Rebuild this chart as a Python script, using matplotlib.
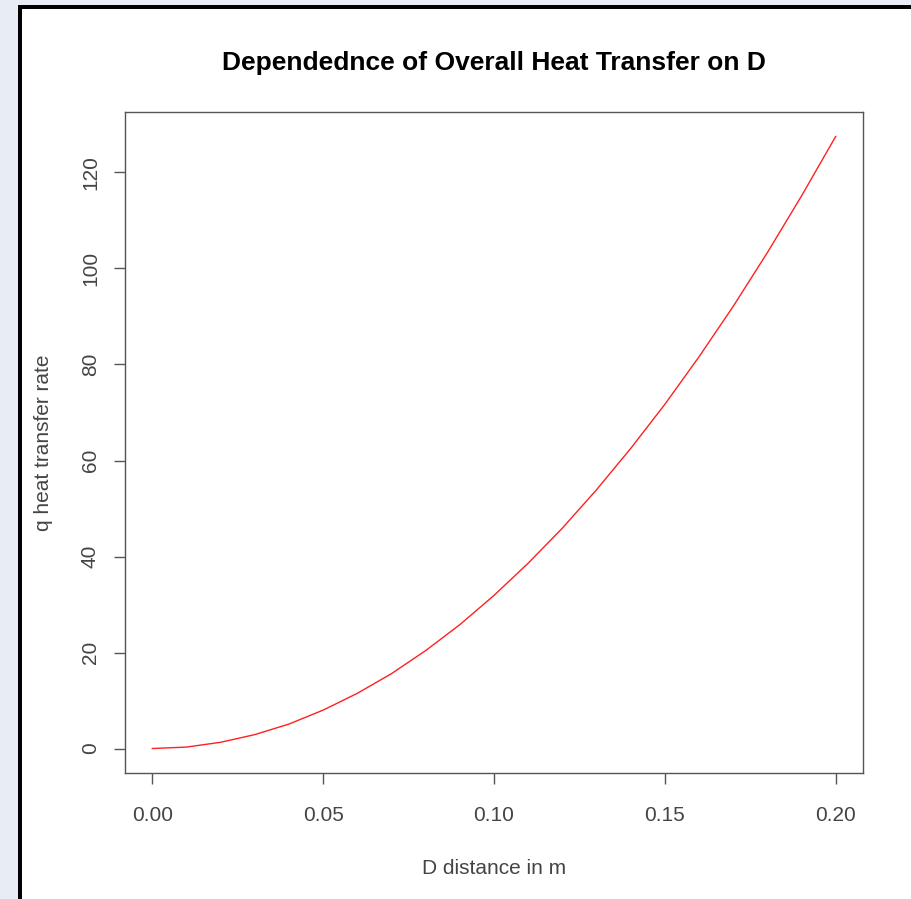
import matplotlib
matplotlib.use("Agg")
import matplotlib.pyplot as plt
from matplotlib.patches import Rectangle

plt.rcParams['font.family'] = ['Liberation Sans', 'DejaVu Sans']

# Data
D = [0.00, 0.01, 0.02, 0.03, 0.04, 0.05, 0.06, 0.07, 0.08, 0.09, 0.10,
     0.11, 0.12, 0.13, 0.14, 0.15, 0.16, 0.17, 0.18, 0.19, 0.20]
q = [0.0, 0.3, 1.3, 2.9, 5.1, 8.0, 11.5, 15.6, 20.4, 25.8, 31.9,
     38.6, 45.9, 53.9, 62.5, 71.7, 81.6, 92.1, 103.3, 115.1, 127.5]
xticks = [0.00, 0.05, 0.10, 0.15, 0.20]
xticklabels = ["0.00", "0.05", "0.10", "0.15", "0.20"]
yticks = [0, 20, 40, 60, 80, 100, 120]

W, H = 912, 899
fig = plt.figure(figsize=(W / 100, H / 100), dpi=100, facecolor='#E8ECF5')

# black frame + white panel
fig.patches.append(Rectangle((18 / W, 0), 1 - 18 / W, 1 - 5 / H, transform=fig.transFigure,
                             facecolor='black', edgecolor='none', zorder=-20))
fig.patches.append(Rectangle((22 / W, 0), 1 - 22 / W, 1 - 9 / H, transform=fig.transFigure,
                             facecolor='white', edgecolor='none', zorder=-10))

ax = fig.add_axes([125 / W, 1 - 773 / H, 738 / W, 661 / H])
ax.set_zorder(1)
ax.set_facecolor('white')
ax.plot(D, q, color='#FF2020', linewidth=1.0)

xr = 0.2
ax.set_xlim(0 - 0.04 * xr, 0.2 + 0.04 * xr)
yr = max(q)
ax.set_ylim(0 - 0.04 * yr, yr + 0.04 * yr)

ax.set_xticks(xticks)
ax.set_xticklabels(xticklabels)
ax.set_yticks(yticks)
ax.set_yticklabels([str(v) for v in yticks], rotation=90, va='center')

txtc = '#444444'
for s in ax.spines.values():
    s.set_color('#555555')
    s.set_linewidth(1.0)
ax.tick_params(axis='both', direction='out', length=8, width=1.0, color='#555555',
               labelcolor=txtc, labelsize=15)
ax.tick_params(axis='x', pad=16)
ax.tick_params(axis='y', pad=10)

ax.set_title("Dependednce of Overall Heat Transfer on D", fontsize=19, fontweight='bold',
             color='black', pad=30)
ax.set_xlabel("D distance in m", fontsize=15, color=txtc, labelpad=24)
ax.set_ylabel("q heat transfer rate", fontsize=15, color=txtc, labelpad=20)

fig.savefig("out.png", dpi=100, facecolor=fig.get_facecolor())
